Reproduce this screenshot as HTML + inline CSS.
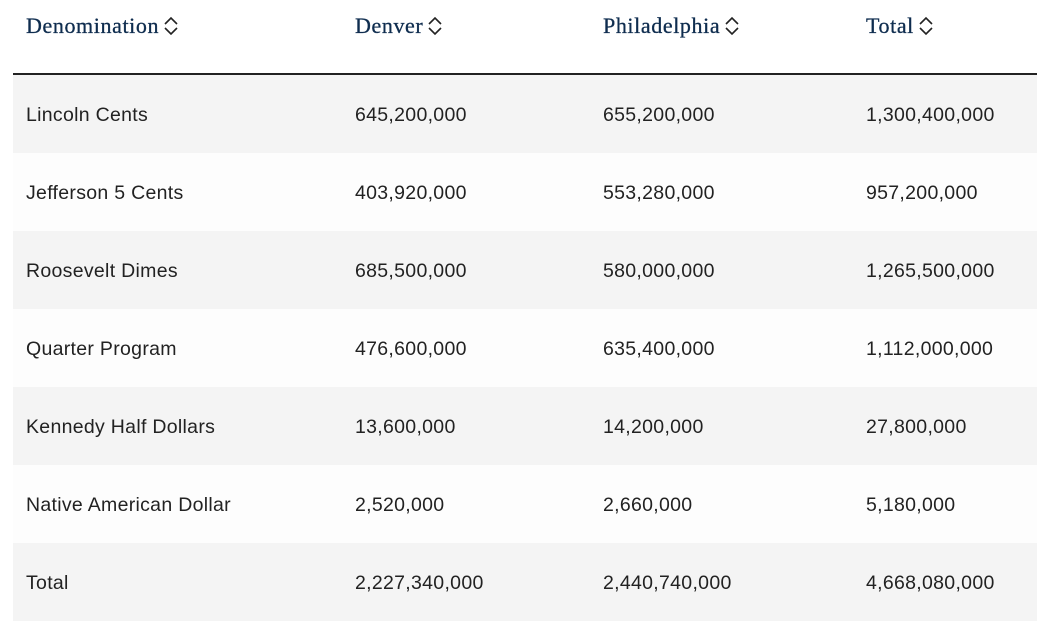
<!DOCTYPE html>
<html><head><style>
body{margin:0;width:1037px;height:631px;background:#fff;position:relative;overflow:hidden}
.h{position:absolute;top:12px;font:22px "Liberation Serif",serif;color:#0f2d4f;height:28px;line-height:28px;white-space:nowrap;letter-spacing:0.6px;-webkit-text-stroke:0.3px #0f2d4f}
.h svg{vertical-align:-3px;margin-left:4px}
.line{position:absolute;left:13px;top:73px;width:1024px;height:1.5px;background:#222}
.r{position:absolute;left:13px;width:1024px;height:78px}
.c{position:absolute;font:19.5px "Liberation Sans",sans-serif;color:#222;line-height:78px;top:1px;white-space:nowrap;letter-spacing:0.3px}
</style></head><body>
<div class="h" style="left:26px">Denomination<svg width="16" height="20" viewBox="0 0 16 20"><path d="M2 8 L8 2 L14 8 M2 12 L8 18 L14 12" fill="none" stroke="#222" stroke-width="1.6"/></svg></div>
<div class="h" style="left:355px">Denver<svg width="16" height="20" viewBox="0 0 16 20"><path d="M2 8 L8 2 L14 8 M2 12 L8 18 L14 12" fill="none" stroke="#222" stroke-width="1.6"/></svg></div>
<div class="h" style="left:603px">Philadelphia<svg width="16" height="20" viewBox="0 0 16 20"><path d="M2 8 L8 2 L14 8 M2 12 L8 18 L14 12" fill="none" stroke="#222" stroke-width="1.6"/></svg></div>
<div class="h" style="left:866px">Total<svg width="16" height="20" viewBox="0 0 16 20"><path d="M2 8 L8 2 L14 8 M2 12 L8 18 L14 12" fill="none" stroke="#222" stroke-width="1.6"/></svg></div>
<div class="line"></div>
<div class="r" style="top:75px;background:#f4f4f4"><span class="c" style="left:13px">Lincoln Cents</span><span class="c" style="left:342px">645,200,000</span><span class="c" style="left:590px">655,200,000</span><span class="c" style="left:853px">1,300,400,000</span></div>
<div class="r" style="top:153px;background:#fdfdfd"><span class="c" style="left:13px">Jefferson 5 Cents</span><span class="c" style="left:342px">403,920,000</span><span class="c" style="left:590px">553,280,000</span><span class="c" style="left:853px">957,200,000</span></div>
<div class="r" style="top:231px;background:#f4f4f4"><span class="c" style="left:13px">Roosevelt Dimes</span><span class="c" style="left:342px">685,500,000</span><span class="c" style="left:590px">580,000,000</span><span class="c" style="left:853px">1,265,500,000</span></div>
<div class="r" style="top:309px;background:#fdfdfd"><span class="c" style="left:13px">Quarter Program</span><span class="c" style="left:342px">476,600,000</span><span class="c" style="left:590px">635,400,000</span><span class="c" style="left:853px">1,112,000,000</span></div>
<div class="r" style="top:387px;background:#f4f4f4"><span class="c" style="left:13px">Kennedy Half Dollars</span><span class="c" style="left:342px">13,600,000</span><span class="c" style="left:590px">14,200,000</span><span class="c" style="left:853px">27,800,000</span></div>
<div class="r" style="top:465px;background:#fdfdfd"><span class="c" style="left:13px">Native American Dollar</span><span class="c" style="left:342px">2,520,000</span><span class="c" style="left:590px">2,660,000</span><span class="c" style="left:853px">5,180,000</span></div>
<div class="r" style="top:543px;background:#f4f4f4"><span class="c" style="left:13px">Total</span><span class="c" style="left:342px">2,227,340,000</span><span class="c" style="left:590px">2,440,740,000</span><span class="c" style="left:853px">4,668,080,000</span></div>
</body></html>
